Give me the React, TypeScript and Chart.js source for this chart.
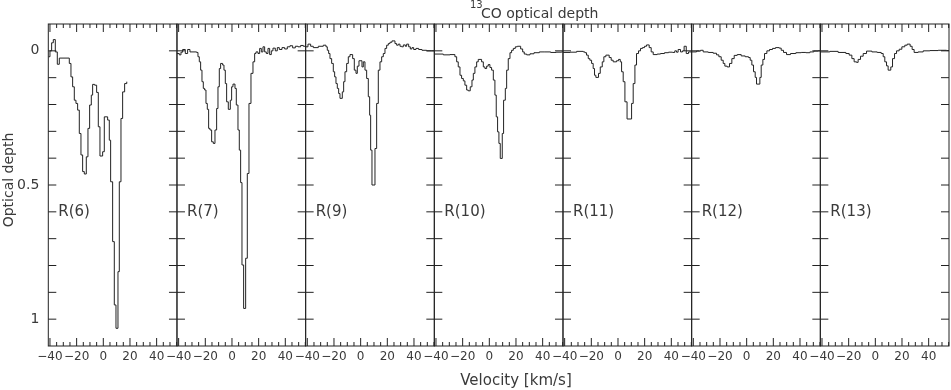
import React, { useEffect, useRef } from "react";
import { Chart, registerables } from "chart.js";

Chart.register(...registerables);

// ---------- data (velocity in km/s = start of each channel step, optical depth) ----------
const PANEL_LABELS = ["R(6)", "R(7)", "R(9)", "R(10)", "R(11)", "R(12)", "R(13)"];

const VEL_R6 = [-41.25, -40, -38.75, -37.5, -36, -34.5, -33, -25.5, -24.25, -23, -21.75, -20.5, -19.25, -18, -16.75, -15.5, -14.25, -12.75, -11.5, -10.25, -9, -8, -6.5, -5, -3.75, -2.5, -0.5, 0.75, 3.25, 4.5, 5.5, 7, 8.25, 9.5, 11, 12, 13.25, 14.5, 16, 17.6];
const TAU_R6 = [0.022, 0.0, -0.03, -0.042, 0.004, 0.05, 0.027, 0.047, 0.097, 0.134, 0.184, 0.196, 0.221, 0.308, 0.388, 0.45, 0.459, 0.395, 0.289, 0.202, 0.165, 0.125, 0.128, 0.155, 0.283, 0.392, 0.376, 0.246, 0.258, 0.333, 0.488, 0.711, 0.947, 1.034, 0.823, 0.488, 0.252, 0.153, 0.122, 0.115];

const VEL_R7 = [-41.25, -39.5, -38.25, -37, -35, -33.25, -31.5, -26.5, -25.5, -24.5, -23.5, -22.5, -21.5, -20.5, -19.5, -18.5, -17.5, -16.5, -15.25, -14, -12.75, -11.5, -10.5, -9.5, -8.5, -7, -6, -5, -4, -2.75, -1.25, -0.25, 0.75, 2.25, 3.25, 4.5, 5.5, 6.5, 7.5, 8.75, 10.25, 11.5, 12.75, 14.25, 15.75, 17, 18, 19.5, 20.75, 22, 23.25, 24.5, 25.75, 27, 28.25, 29.5, 30.75, 32.5, 34, 35.5, 37.5, 39.5, 41.5, 43.5, 45.5, 47.5, 49.5, 51.5, 53.5, 55.25];
const TAU_R7 = [0.01, 0.015, 0.005, -0.005, 0.01, -0.005, 0.004, 0.006, 0.022, 0.041, 0.072, 0.115, 0.14, 0.146, 0.196, 0.218, 0.289, 0.295, 0.339, 0.345, 0.295, 0.215, 0.134, 0.066, 0.047, 0.053, 0.072, 0.122, 0.19, 0.218, 0.184, 0.134, 0.124, 0.14, 0.202, 0.295, 0.37, 0.491, 0.798, 0.96, 0.773, 0.457, 0.196, 0.084, 0.041, 0.01, 0.004, 0.01, -0.009, 0.004, -0.015, 0.004, 0.01, -0.009, 0.014, 0.0, -0.01, 0.0, -0.012, -0.005, -0.012, -0.007, -0.015, -0.019, -0.011, -0.017, -0.015, -0.02, -0.017, -0.017];

const VEL_R9 = [-41.25, -39.5, -37.5, -35.5, -31.75, -28, -26, -25, -24, -23, -21.75, -20.5, -19.5, -18.5, -17.5, -16.5, -15.5, -13.75, -12.75, -11.75, -10.5, -9.25, -8, -6, -4.75, -3.5, -2.5, -1.25, 1, 2, 3.25, 4.5, 5.75, 6.75, 7.5, 8.5, 10.75, 12, 13.25, 14.5, 15.75, 17, 18.25, 19.5, 20.75, 22, 23.5, 25.75, 27, 28.25, 29.5, 30.75, 32, 33.5, 34.5, 36, 37.25, 38.5, 39.75, 41.5, 43.5, 46, 49.5, 53.25, 55.25];
const TAU_R9 = [-0.015, -0.025, -0.017, -0.012, -0.017, -0.021, -0.015, -0.002, 0.01, 0.029, 0.047, 0.078, 0.097, 0.122, 0.14, 0.159, 0.177, 0.153, 0.115, 0.078, 0.047, 0.022, 0.014, 0.029, 0.072, 0.084, 0.057, 0.037, 0.06, 0.041, 0.072, 0.103, 0.171, 0.24, 0.37, 0.5, 0.364, 0.196, 0.072, 0.041, 0.022, 0.01, -0.009, -0.021, -0.027, -0.032, -0.037, -0.027, -0.021, -0.025, -0.017, -0.015, -0.022, -0.017, -0.025, -0.015, -0.007, -0.012, -0.005, -0.009, -0.005, -0.002, 0.0, 0.0, 0.0];

const VEL_R10 = [-41.25, -34.5, -29.5, -25.8, -24.5, -23.3, -22, -20.8, -19.5, -18.3, -17, -15.8, -14.3, -13, -12, -10.8, -9.5, -8.3, -5.8, -4.5, -3.3, -2, -0.8, 0.45, 1.7, 3, 4.2, 5.2, 6.2, 7.2, 8.2, 9.7, 10.7, 12, 13, 14.2, 15.5, 16.7, 18, 19.5, 21, 23.5, 25, 26.2, 28, 30.5, 33.5, 37.5, 41.7, 46, 50, 54.2, 55.25];
const TAU_R10 = [0.012, 0.015, 0.014, 0.022, 0.041, 0.06, 0.091, 0.103, 0.112, 0.128, 0.146, 0.149, 0.134, 0.109, 0.084, 0.06, 0.041, 0.032, 0.041, 0.06, 0.066, 0.057, 0.051, 0.062, 0.072, 0.109, 0.165, 0.246, 0.302, 0.345, 0.401, 0.308, 0.184, 0.14, 0.072, 0.029, 0.007, -0.002, -0.009, -0.015, -0.017, -0.007, 0.004, 0.012, 0.015, 0.011, 0.007, 0.004, 0.004, 0.006, 0.005, 0.004, 0.004];

const VEL_R11 = [-41.25, -36, -31, -26, -24.8, -23.6, -22.3, -21.1, -19.8, -18.6, -17.6, -16.6, -14.6, -13.3, -11.8, -10.6, -9.1, -6.6, -5.1, -3.6, -1.1, 0.4, 1.7, 2.7, 3.9, 5.2, 6.8, 10.2, 11.4, 12.7, 13.9, 15.4, 16.9, 18.4, 19.9, 21.4, 23.4, 24.9, 26.4, 29.4, 31.9, 34.9, 37.9, 40.9, 42.6, 43.9, 45.1, 46.9, 48.4, 49.6, 51.2, 52.9, 55.25];
const TAU_R11 = [0.006, 0.005, 0.002, 0.004, 0.007, 0.016, 0.029, 0.035, 0.047, 0.066, 0.091, 0.099, 0.084, 0.06, 0.041, 0.022, 0.016, 0.025, 0.035, 0.041, 0.037, 0.032, 0.041, 0.078, 0.115, 0.19, 0.254, 0.196, 0.122, 0.053, 0.01, 0.0, -0.009, -0.012, -0.017, -0.022, -0.012, 0.004, 0.014, 0.012, 0.01, 0.007, 0.005, 0.006, 0.0, 0.005, -0.005, 0.004, 0.0, -0.017, 0.01, 0.004, 0.004];

const VEL_R12 = [-41.25, -37.6, -34.6, -32.6, -28.8, -25.1, -22.6, -20.85, -19.1, -17.6, -16.35, -14.6, -12.85, -11.1, -9.35, -7.1, -4.1, -1.1, 1.4, 2.65, 3.9, 5.15, 6.4, 7.4, 9.9, 10.9, 12.15, 13.4, 15.15, 17.15, 19.4, 21.65, 24.4, 25.9, 27.65, 29.9, 32.9, 36.9, 40.9, 44.4, 47.4, 50.4, 53.65, 55.25];
const TAU_R12 = [0.004, 0.001, -0.002, 0.004, 0.006, 0.009, 0.015, 0.022, 0.035, 0.047, 0.057, 0.06, 0.047, 0.029, 0.017, 0.014, 0.019, 0.022, 0.025, 0.035, 0.053, 0.078, 0.099, 0.124, 0.099, 0.053, 0.032, 0.01, 0.0, -0.005, -0.009, -0.012, -0.01, -0.002, 0.006, 0.014, 0.01, 0.007, 0.006, 0.007, 0.004, 0.001, 0.0, 0.0];

const VEL_R13 = [-41.25, -34.1, -27.9, -22.1, -19.6, -17.6, -15.9, -14.1, -12.9, -11.1, -9.1, -6.6, -2.6, 1.4, 4.4, 5.9, 7.1, 8.4, 9.6, 11.6, 12.9, 14.4, 15.9, 17.9, 19.9, 22.1, 23.9, 26.1, 27.6, 29.1, 32.1, 35.9, 40.9, 47.1, 53.4, 55.25];
const TAU_R13 = [0.004, 0.002, 0.006, 0.01, 0.016, 0.029, 0.041, 0.043, 0.032, 0.02, 0.01, 0.001, 0.004, 0.006, 0.01, 0.022, 0.041, 0.056, 0.072, 0.06, 0.029, 0.01, 0.0, -0.006, -0.015, -0.021, -0.025, -0.017, -0.005, 0.006, 0.004, 0.0, -0.001, -0.002, -0.001, -0.001];

const PANEL_VELS = [VEL_R6, VEL_R7, VEL_R9, VEL_R10, VEL_R11, VEL_R12, VEL_R13];
const PANEL_TAUS = [TAU_R6, TAU_R7, TAU_R9, TAU_R10, TAU_R11, TAU_R12, TAU_R13];

const X_TICK_LABELS = [-40, -20, 0, 20, 40];
const Y_TICK_LABELS = [0, 0.5, 1];
const X_MIN = -41.25;
const X_MAX = 55.25;
const Y_MIN = -0.1;
const Y_MAX = 1.1;
const LABEL_TAU = 0.6;

const TITLE_SUP = "13";
const TITLE_MAIN = "CO optical depth";
const X_TITLE = "Velocity [km/s]";
const Y_TITLE = "Optical depth";

// ---------- layout ----------
const W = 951;
const H = 390;
const PLOT_LEFT = 48.3;
const PLOT_RIGHT = 949;
const PLOT_TOP = 24;
const PLOT_BOTTOM = 346;
const FONT = "'DejaVu Sans', sans-serif";
const INK = "#222";
const TEXT = "#3a3a3a";

const fmt = (v: number) => (v < 0 ? "\u2212" + Math.abs(v) : String(v));

function makeFramePlugin(label: string) {
  return {
    id: "idlFrame",
    afterDatasetsDraw(chart: any) {
      const { ctx, chartArea: a, scales } = chart;
      const xs = scales.x;
      const ys = scales.y;
      ctx.save();
      ctx.strokeStyle = INK;
      ctx.lineWidth = 1;
      ctx.beginPath();
      for (let v = -40; v <= X_MAX; v += 5) {
        const px = xs.getPixelForValue(v);
        const len = v % 20 === 0 ? 8 : 4;
        ctx.moveTo(px, a.top);
        ctx.lineTo(px, a.top + len);
        ctx.moveTo(px, a.bottom);
        ctx.lineTo(px, a.bottom - len);
      }
      for (let k = 0; k <= 10; k++) {
        const py = ys.getPixelForValue(k / 10);
        ctx.moveTo(a.left, py);
        ctx.lineTo(a.left + 8, py);
        ctx.moveTo(a.right, py);
        ctx.lineTo(a.right - 8, py);
      }
      ctx.stroke();
      ctx.strokeRect(a.left, a.top, a.right - a.left, a.bottom - a.top);
      ctx.fillStyle = TEXT;
      ctx.font = `15px ${FONT}`;
      ctx.textBaseline = "middle";
      ctx.textAlign = "left";
      ctx.fillText(label, a.left + 10, ys.getPixelForValue(LABEL_TAU));
      ctx.restore();
    },
  };
}

function Panel({ index }: { index: number }) {
  const ref = useRef<HTMLCanvasElement>(null);
  const pw = (PLOT_RIGHT - PLOT_LEFT) / 7;
  const left = PLOT_LEFT + index * pw;
  const canvasLeft = index === 0 ? 0 : Math.floor(left) - 20;
  const canvasRight = index === 6 ? W : Math.ceil(left + pw) + 16;
  const cw = canvasRight - canvasLeft;
  const yAxisW = left - canvasLeft;
  const padRight = canvasRight - (left + pw);

  useEffect(() => {
    const vel = PANEL_VELS[index];
    const tau = PANEL_TAUS[index];
    const chart = new Chart(ref.current as HTMLCanvasElement, {
      type: "line",
      data: {
        datasets: [
          {
            data: vel.map((v, i) => ({ x: v, y: tau[i] })),
            stepped: true,
            borderColor: INK,
            borderWidth: 1,
            pointRadius: 0,
            fill: false,
          },
        ],
      },
      options: {
        animation: false,
        responsive: false,
        maintainAspectRatio: false,
        events: [],
        layout: { padding: { top: PLOT_TOP, right: padRight, left: 0, bottom: 0 } },
        plugins: {
          legend: { display: false },
          tooltip: { enabled: false },
          title: { display: false },
        },
        scales: {
          x: {
            type: "linear",
            min: X_MIN,
            max: X_MAX,
            afterBuildTicks: (s: any) => {
              s.ticks = X_TICK_LABELS.map((v) => ({ value: v }));
            },
            afterFit: (s: any) => {
              s.height = H - PLOT_BOTTOM;
            },
            grid: { display: false, drawTicks: false },
            border: { display: false },
            ticks: {
              color: TEXT,
              font: { family: FONT, size: 12 },
              padding: 4,
              maxRotation: 0,
              autoSkip: false,
              callback: (v: any) => fmt(Number(v)),
            },
          },
          y: {
            type: "linear",
            reverse: true,
            min: Y_MIN,
            max: Y_MAX,
            afterBuildTicks: (s: any) => {
              s.ticks = Y_TICK_LABELS.map((v) => ({ value: v }));
            },
            afterFit: (s: any) => {
              s.width = yAxisW;
            },
            grid: { display: false, drawTicks: false },
            border: { display: false },
            ticks: {
              display: index === 0,
              color: TEXT,
              font: { family: FONT, size: 14 },
              padding: 9,
              callback: (v: any) => String(v),
            },
          },
        },
      } as any,
      plugins: [makeFramePlugin(PANEL_LABELS[index])],
    });
    return () => chart.destroy();
  }, []);

  return (
    <canvas
      ref={ref}
      width={cw}
      height={H}
      style={{ position: "absolute", left: canvasLeft, top: 0, width: cw, height: H }}
    />
  );
}

export default function App() {
  return (
    <div
      style={{
        position: "absolute",
        left: 0,
        top: 0,
        width: W,
        height: H,
        background: "#fff",
        overflow: "hidden",
        fontFamily: FONT,
        color: TEXT,
      }}
    >
      {PANEL_LABELS.map((_, i) => (
        <Panel key={i} index={i} />
      ))}
      <div style={{ position: "absolute", left: 470, top: 0, fontSize: 10, lineHeight: "10px", whiteSpace: "nowrap" }}>
        {TITLE_SUP}
      </div>
      <div style={{ position: "absolute", left: 481, top: 6, fontSize: 14, lineHeight: "14px", whiteSpace: "nowrap" }}>
        {TITLE_MAIN}
      </div>
      <div
        style={{
          position: "absolute",
          left: 516 - 80,
          width: 160,
          top: 373,
          fontSize: 15,
          lineHeight: "15px",
          textAlign: "center",
          whiteSpace: "nowrap",
        }}
      >
        {X_TITLE}
      </div>
      <div
        style={{
          position: "absolute",
          left: 7.5 - 60,
          top: 180 - 8,
          width: 120,
          height: 16,
          fontSize: 14,
          lineHeight: "16px",
          textAlign: "center",
          whiteSpace: "nowrap",
          transform: "rotate(-90deg)",
        }}
      >
        {Y_TITLE}
      </div>
    </div>
  );
}
